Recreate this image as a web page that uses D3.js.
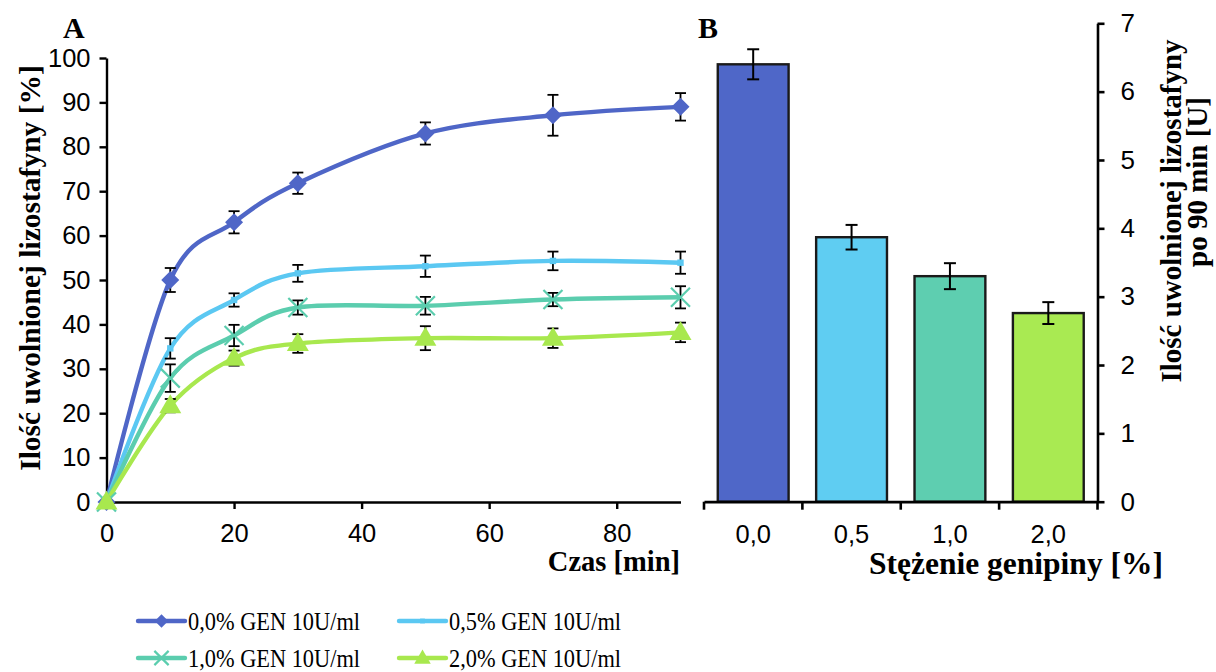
<!DOCTYPE html>
<html>
<head>
<meta charset="utf-8">
<script src="https://cdn.jsdelivr.net/npm/d3@7"></script>
<style>
  html, body { margin: 0; padding: 0; background: #fff; }
  svg { display: block; }
</style>
</head>
<body>
<svg id="chart" width="1216" height="672"></svg>
<script>
// ---------- DATA ----------
const times = [0, 10, 20, 30, 50, 70, 90];
const seriesNames = ["0,0% GEN 10U/ml", "0,5% GEN 10U/ml", "1,0% GEN 10U/ml", "2,0% GEN 10U/ml"];
const vals00 = [0, 50.0, 63.0, 71.8, 83.0, 87.1, 89.0];
const err00  = [0, 2.7, 2.5, 2.4, 2.5, 4.6, 3.1];
const vals05 = [0, 34.6, 45.5, 51.5, 53.1, 54.3, 53.9];
const err05  = [0, 2.3, 1.5, 1.9, 2.4, 2.1, 2.5];
const vals10 = [0, 27.9, 37.5, 43.8, 44.2, 45.6, 46.1];
const err10  = [0, 3.1, 2.4, 1.6, 2.0, 1.5, 2.5];
const vals20 = [0, 21.7, 32.4, 35.7, 36.9, 36.9, 38.2];
const err20  = [0, 1.5, 1.7, 2.1, 2.7, 2.2, 2.2];

const concentrations = ["0,0", "0,5", "1,0", "2,0"];
const amounts   = [6.40, 3.87, 3.30, 2.76];
const amountErr = [0.22, 0.18, 0.19, 0.16];

const yTicksL = [0, 10, 20, 30, 40, 50, 60, 70, 80, 90, 100];
const xTicksL = [0, 20, 40, 60, 80];
const yTicksR = [0, 1, 2, 3, 4, 5, 6, 7];

// ---------- STYLE ----------
const lineColors = ["#4F66C7", "#5BC8F2", "#5BCDAE", "#A8E84E"];
const barColors  = ["#4F67C8", "#5FCDF2", "#5ECEB0", "#A9EA52"];
const markerTypes = ["diamond", "square", "x", "triangle"];
const sansFont = "'Liberation Sans', Arial, sans-serif";
const serifFont = "'Liberation Serif', 'Times New Roman', serif";

const svg = d3.select("#chart");

// ---------- PANEL A ----------
const xL = d3.scaleLinear().domain([0, 90]).range([106.5, 680.5]);
const yL = d3.scaleLinear().domain([0, 100]).range([502, 58]);

const series = [
  { name: seriesNames[0], v: vals00, e: err00 },
  { name: seriesNames[1], v: vals05, e: err05 },
  { name: seriesNames[2], v: vals10, e: err10 },
  { name: seriesNames[3], v: vals20, e: err20 }
];

function styleAxis(g, fontSize, width) {
  g.selectAll("path.domain").attr("stroke", "#000").attr("stroke-width", width);
  g.selectAll(".tick line").attr("stroke", "#000").attr("stroke-width", width);
  g.selectAll(".tick text").attr("fill", "#000").attr("font-family", sansFont).attr("font-size", fontSize);
}

const gyL = svg.append("g").attr("transform", `translate(${xL(0)},0)`)
  .call(d3.axisLeft(yL).tickValues(yTicksL).tickFormat(d3.format("d")).tickSize(7).tickSizeOuter(0).tickPadding(9));
styleAxis(gyL, 25.5, 2.4);

const gxL = svg.append("g").attr("transform", `translate(0,${yL(0)})`)
  .call(d3.axisBottom(xL).tickValues(xTicksL).tickFormat(d3.format("d")).tickSize(7).tickSizeOuter(0).tickPadding(15));
styleAxis(gxL, 25.5, 2.4);

const line = d3.line()
  .x((d, i) => xL(times[i]))
  .y(d => yL(d))
  .curve(d3.curveCardinal.tension(0));

series.forEach((s, si) => {
  svg.append("path")
    .attr("d", line(s.v))
    .attr("fill", "none")
    .attr("stroke", lineColors[si])
    .attr("stroke-width", 4.4)
    .attr("stroke-linejoin", "round");
});

// error bars
series.forEach((s, si) => {
  const g = svg.append("g").attr("stroke", "#000").attr("stroke-width", 1.8);
  s.v.forEach((v, i) => {
    if (!s.e[i]) return;
    const x = xL(times[i]);
    const y1 = yL(v + s.e[i]), y2 = yL(v - s.e[i]);
    g.append("line").attr("x1", x).attr("x2", x).attr("y1", y1).attr("y2", y2);
    g.append("line").attr("x1", x - 5.5).attr("x2", x + 5.5).attr("y1", y1).attr("y2", y1);
    g.append("line").attr("x1", x - 5.5).attr("x2", x + 5.5).attr("y1", y2).attr("y2", y2);
  });
});

function drawMarker(g, type, x, y, color, scale) {
  const k = scale || 1;
  if (type === "diamond") {
    const r = 9 * k;
    g.append("path").attr("d", `M${x},${y - r}L${x + r},${y}L${x},${y + r}L${x - r},${y}Z`).attr("fill", color);
  } else if (type === "square") {
    const r = 3.2 * k;
    g.append("rect").attr("x", x - r).attr("y", y - r).attr("width", 2 * r).attr("height", 2 * r).attr("fill", color);
  } else if (type === "x") {
    const r = 9.5 * k;
    g.append("path").attr("d", `M${x - r},${y - r}L${x + r},${y + r}M${x - r},${y + r}L${x + r},${y - r}`)
      .attr("stroke", color).attr("stroke-width", 2.2).attr("fill", "none");
  } else if (type === "triangle") {
    const w = 11 * k, h = 19 * k;
    g.append("path").attr("d", `M${x},${y - h * 0.6}L${x + w},${y + h * 0.4}L${x - w},${y + h * 0.4}Z`).attr("fill", color);
  }
}

series.forEach((s, si) => {
  const g = svg.append("g");
  s.v.forEach((v, i) => drawMarker(g, markerTypes[si], xL(times[i]), yL(v), lineColors[si], 1));
});

svg.append("text").attr("x", 63).attr("y", 38)
  .attr("font-family", serifFont).attr("font-weight", "bold").attr("font-size", 30).text("A");

svg.append("text").attr("x", 680).attr("y", 571).attr("text-anchor", "end")
  .attr("font-family", serifFont).attr("font-weight", "bold").attr("font-size", 28.5).text("Czas [min]");

svg.append("text").attr("transform", "translate(40,268) rotate(-90)").attr("text-anchor", "middle")
  .attr("font-family", serifFont).attr("font-weight", "bold").attr("font-size", 29.5)
  .text("Ilość uwolnionej lizostafyny [%]");

// ---------- PANEL B ----------
const xB = d3.scaleBand().domain(concentrations).range([704, 1097.5]).paddingInner(0.28).paddingOuter(0.14);
const yR = d3.scaleLinear().domain([0, 7]).range([501.7, 23.3]);

svg.append("g").selectAll("rect").data(concentrations).join("rect")
  .attr("x", d => xB(d))
  .attr("width", xB.bandwidth())
  .attr("y", (d, i) => yR(amounts[i]))
  .attr("height", (d, i) => yR(0) - yR(amounts[i]))
  .attr("fill", (d, i) => barColors[i])
  .attr("stroke", "#1a1a1a").attr("stroke-width", 2.4);

const gyR = svg.append("g").attr("transform", `translate(${xB.range()[1]},0)`)
  .call(d3.axisRight(yR).tickValues(yTicksR).tickFormat(d3.format("d")).tickSize(7).tickSizeOuter(0).tickPadding(16));
styleAxis(gyR, 26, 2.6);

const gxB = svg.append("g").attr("transform", `translate(0,${yR(0)})`)
  .call(d3.axisBottom(xB).tickSize(0).tickSizeOuter(0).tickPadding(23));
styleAxis(gxB, 25.5, 2.8);
// category separators (Excel-style ticks between categories)
const stepB = xB.step();
const sepPos = d3.range(concentrations.length + 1).map(i => xB.range()[0] + i * stepB);
gxB.selectAll("line.sep").data(sepPos).join("line").attr("class", "sep")
  .attr("x1", d => d).attr("x2", d => d).attr("y1", 0).attr("y2", 8)
  .attr("stroke", "#000").attr("stroke-width", 2.6);

const gErrB = svg.append("g").attr("stroke", "#000").attr("stroke-width", 2);
concentrations.forEach((c, i) => {
  const x = xB(c) + xB.bandwidth() / 2;
  const y1 = yR(amounts[i] + amountErr[i]), y2 = yR(amounts[i] - amountErr[i]);
  gErrB.append("line").attr("x1", x).attr("x2", x).attr("y1", y1).attr("y2", y2);
  gErrB.append("line").attr("x1", x - 6).attr("x2", x + 6).attr("y1", y1).attr("y2", y1);
  gErrB.append("line").attr("x1", x - 6).attr("x2", x + 6).attr("y1", y2).attr("y2", y2);
});

svg.append("text").attr("x", 698).attr("y", 38)
  .attr("font-family", serifFont).attr("font-weight", "bold").attr("font-size", 30).text("B");

svg.append("text").attr("x", 1163).attr("y", 574).attr("text-anchor", "end")
  .attr("font-family", serifFont).attr("font-weight", "bold").attr("font-size", 31.5).text("Stężenie genipiny [%]");

svg.append("text").attr("transform", "translate(1181,211) rotate(-90)").attr("text-anchor", "middle")
  .attr("font-family", serifFont).attr("font-weight", "bold").attr("font-size", 29)
  .text("Ilość uwolnionej lizostafyny");
svg.append("text").attr("transform", "translate(1207,182) rotate(-90)").attr("text-anchor", "middle")
  .attr("font-family", serifFont).attr("font-weight", "bold").attr("font-size", 29)
  .text("po 90 min [U]");

// ---------- LEGEND ----------
const legendPos = [
  { x: 138, y: 621 }, { x: 399, y: 621 },
  { x: 138, y: 658 }, { x: 399, y: 658 }
];
seriesNames.forEach((n, i) => {
  const p = legendPos[i];
  const g = svg.append("g");
  g.append("line").attr("x1", p.x).attr("x2", p.x + 47).attr("y1", p.y).attr("y2", p.y)
    .attr("stroke", lineColors[i]).attr("stroke-width", 4.4).attr("stroke-linecap", "round");
  drawMarker(g, markerTypes[i], p.x + 23.5, p.y, lineColors[i], 0.75);
  g.append("text").attr("x", p.x + 50).attr("y", p.y + 8.5)
    .attr("font-family", serifFont).attr("font-size", 25).attr("fill", "#000")
    .attr("textLength", 172).attr("lengthAdjust", "spacingAndGlyphs").text(n);
});
</script>
</body>
</html>
